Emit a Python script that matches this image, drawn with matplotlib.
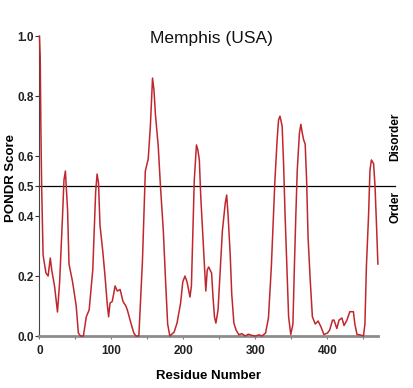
import numpy as np
import matplotlib
matplotlib.use('Agg')
import matplotlib.pyplot as plt
from matplotlib.ticker import MultipleLocator

# PONDR trace (residue, score)
residue = [0, 1, 2, 3, 4, 5, 9, 12, 15, 17, 21, 25, 28, 32, 34, 36, 39, 41,
           46, 51, 54, 57, 61, 65, 69, 74, 76, 78, 80, 82, 84, 88, 91, 94,
           96, 98, 101, 103, 105, 108, 112, 116, 120, 122, 127, 131, 134,
           138, 140, 143, 145, 147, 151, 154, 157, 159, 161, 165, 168, 172,
           175, 178, 181, 187, 191, 196, 199, 202, 205, 209, 211, 213, 215,
           218, 220, 222, 224, 227, 230, 231, 233, 235, 239, 241, 243, 245,
           248, 251, 254, 258, 260, 262, 265, 267, 270, 273, 277, 281, 286,
           290, 295, 300, 305, 309, 314, 318, 322, 325, 327, 330, 332, 334,
           337, 339, 341, 344, 346, 349, 352, 354, 356, 358, 361, 363, 365,
           367, 369, 371, 373, 376, 379, 383, 387, 391, 395, 400, 403, 407,
           409, 413, 416, 420, 423, 427, 431, 436, 438, 441, 445, 450, 452,
           454, 457, 459, 461, 464, 466, 468, 470]
score = [1.0, 0.93, 0.68, 0.50, 0.38, 0.27, 0.21, 0.20, 0.26, 0.22, 0.165,
         0.08, 0.18, 0.40, 0.52, 0.55, 0.42, 0.24, 0.18, 0.10, 0.01, 0.0,
         0.0, 0.064, 0.087, 0.22, 0.35, 0.48, 0.54, 0.51, 0.37, 0.28, 0.20,
         0.11, 0.064, 0.11, 0.115, 0.14, 0.167, 0.15, 0.155, 0.115, 0.10,
         0.087, 0.043, 0.01, 0.0, 0.0, 0.10, 0.25, 0.40, 0.55, 0.59, 0.70,
         0.86, 0.82, 0.74, 0.63, 0.50, 0.35, 0.19, 0.04, 0.0, 0.013, 0.043,
         0.11, 0.18, 0.20, 0.18, 0.13, 0.167, 0.35, 0.52, 0.637, 0.62, 0.587,
         0.464, 0.33, 0.20, 0.15, 0.22, 0.23, 0.21, 0.13, 0.064, 0.043, 0.087,
         0.22, 0.35, 0.443, 0.47, 0.40, 0.264, 0.14, 0.043, 0.02, 0.004,
         0.008, 0.0, 0.006, 0.002, 0.0, 0.004, 0.0, 0.01, 0.06, 0.23, 0.40,
         0.52, 0.653, 0.72, 0.733, 0.70, 0.575, 0.41, 0.20, 0.064, 0.005,
         0.04, 0.23, 0.40, 0.553, 0.676, 0.706, 0.676, 0.653, 0.64, 0.52,
         0.33, 0.187, 0.064, 0.04, 0.05, 0.03, 0.005, 0.01, 0.02, 0.053,
         0.053, 0.025, 0.053, 0.06, 0.035, 0.053, 0.081, 0.081, 0.04, 0.005,
         0.004, 0.0, 0.04, 0.23, 0.40, 0.553, 0.587, 0.575, 0.50, 0.375, 0.24]

y_ticks = [0.0, 0.2, 0.4, 0.5, 0.6, 0.8, 1.0]
threshold = 0.5

plt.rcParams['font.family'] = ['Liberation Sans', 'DejaVu Sans']

fig = plt.figure(figsize=(4.13, 3.88), dpi=100)
ax = fig.add_axes([0.0956, 0.134, 0.8194, 0.773])

ax.plot(residue, score, color='#c0272d', lw=1.1, clip_on=False, zorder=3)
ax.axhline(threshold, xmin=0, xmax=1.05, color='black', lw=0.9,
           clip_on=False, zorder=2)

ax.set_xlim(0, 470)
ax.set_ylim(0, 1.0)

ax.set_yticks(y_ticks)
ax.set_yticklabels(['%.1f' % v for v in y_ticks])
ax.xaxis.set_major_locator(MultipleLocator(100))
ax.xaxis.set_minor_locator(MultipleLocator(50))
ax.tick_params(axis='y', direction='out', length=3, width=0.8, color='#333333', pad=1)
ax.tick_params(axis='x', which='both', direction='out', length=2.5, width=0.8,
               color='#777777', pad=4)
for lab in ax.get_xticklabels() + ax.get_yticklabels():
    lab.set_fontweight('bold')
    lab.set_fontsize(8.5)
    lab.set_color('#222222')

for s in ['top', 'right']:
    ax.spines[s].set_visible(False)
ax.spines['left'].set_color('#444444')
ax.spines['left'].set_linewidth(0.8)
ax.spines['bottom'].set_color('#8c8c8c')
ax.spines['bottom'].set_linewidth(2)

fig.text(0.511, 0.902, 'Memphis (USA)', ha='center', va='center',
         fontsize=12.5, color='#111111')
ax.set_xlabel('Residue Number', fontweight='bold', fontsize=9.5, labelpad=9)
fig.text(0.027, 0.541, 'PONDR Score', rotation=90, ha='center', va='center',
         fontweight='bold', fontsize=9.5)
fig.text(0.957, 0.647, 'Disorder', rotation=90, ha='center', va='center',
         fontweight='bold', fontsize=8.5)
fig.text(0.957, 0.466, 'Order', rotation=90, ha='center', va='center',
         fontweight='bold', fontsize=8.5)

fig.savefig('out.png', dpi=100)
